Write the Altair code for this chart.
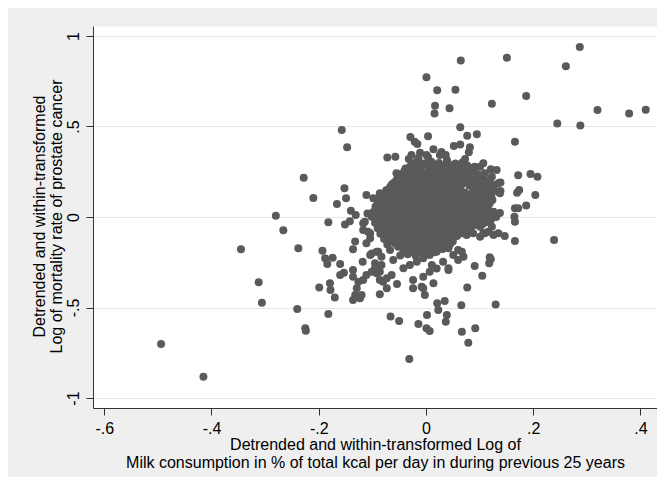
import altair as alt
import pandas as pd

# Points (x = milk, y = mortality), outer / edge points
outer_points = [
    (-0.494, -0.702), (-0.415, -0.882), (-0.345, -0.178), (-0.312, -0.361), (-0.306, -0.474),
    (-0.280, 0.007), (-0.266, -0.073), (-0.238, -0.173), (-0.240, -0.508), (-0.225, -0.615),
    (-0.224, -0.628), (-0.228, 0.217), (-0.210, 0.105), (-0.182, -0.029), (-0.182, -0.536),
    (-0.199, -0.390), (-0.179, -0.366), (-0.178, -0.403), (-0.170, -0.444), (-0.193, -0.186),
    (-0.188, -0.228), (-0.184, -0.260), (-0.174, -0.225), (-0.160, -0.260), (-0.153, -0.308),
    (-0.160, -0.320), (-0.136, -0.293), (-0.136, -0.330), (-0.118, -0.247), (-0.132, -0.136),
    (-0.136, -0.178), (-0.157, 0.481), (-0.147, 0.385), (-0.152, 0.159), (-0.149, 0.103),
    (-0.166, 0.072), (-0.111, 0.122), (-0.086, 0.122), (-0.140, 0.035), (-0.131, 0.011),
    (-0.109, 0.020), (-0.151, -0.042), (-0.142, -0.024), (-0.117, -0.035), (-0.108, -0.081),
    (-0.104, -0.118), (-0.111, -0.145), (-0.101, -0.201), (-0.089, -0.192), (-0.083, -0.219),
    (-0.095, -0.256), (-0.083, -0.265), (-0.067, -0.182), (-0.061, -0.238), (-0.126, -0.357),
    (-0.129, -0.394), (-0.132, -0.431), (-0.136, -0.459), (-0.123, -0.449), (-0.117, -0.348),
    (-0.111, -0.320), (-0.101, -0.302), (-0.092, -0.311), (-0.086, -0.348), (-0.080, -0.357),
    (-0.073, -0.394), (-0.086, -0.427), (-0.054, -0.370), (-0.066, -0.549), (-0.050, -0.575),
    (-0.031, -0.785), (-0.024, -0.348), (-0.024, -0.394), (-0.005, -0.394), (-0.002, -0.431),
    (0.014, -0.366), (-0.014, -0.591), (0.001, -0.615), (0.007, -0.630), (0.002, -0.541),
    (0.021, -0.477), (0.023, -0.514), (0.035, -0.464), (0.039, -0.541), (0.037, -0.578),
    (0.066, -0.488), (0.077, -0.390), (0.067, -0.634), (0.079, -0.694), (0.092, -0.615),
    (0.130, -0.484), (0.091, -0.271), (0.105, -0.324), (0.118, -0.256), (0.121, -0.234),
    (0.042, -0.293), (0.020, -0.284), (0.011, -0.265), (0.060, -0.182), (0.067, -0.192),
    (0.060, -0.238), (0.039, -0.127),
    (0.065, 0.864), (0.001, 0.772), (0.021, 0.700), (0.055, 0.703), (0.123, 0.626),
    (0.017, 0.615), (0.016, 0.571), (0.044, 0.600), (0.064, 0.496), (0.077, 0.449),
    (0.095, 0.457), (-0.029, 0.442), (0.004, 0.446), (-0.016, 0.403), (-0.011, 0.355),
    (0.052, 0.392), (0.064, 0.400), (0.082, 0.385), (0.080, 0.357), (0.014, 0.374),
    (0.029, 0.359), (0.037, 0.343), (-0.072, 0.328), (-0.057, 0.333), (0.073, 0.320),
    (-0.032, 0.320), (0.004, 0.330), (-0.055, 0.241), (-0.060, 0.177), (0.101, 0.278),
    (0.107, 0.297), (0.121, 0.264), (0.132, 0.260), (0.107, 0.214), (0.119, 0.204),
    (0.135, 0.186), (0.135, 0.140), (0.116, 0.066), (0.123, 0.020), (0.135, -0.090),
    (0.287, 0.939), (0.261, 0.832), (0.151, 0.880), (0.187, 0.668), (0.320, 0.591),
    (0.379, 0.571), (0.410, 0.593), (0.245, 0.516), (0.288, 0.505), (0.166, 0.416),
    (0.172, 0.230), (0.195, 0.238), (0.208, 0.223), (0.139, 0.190), (0.174, 0.149),
    (0.170, 0.134), (0.204, 0.122), (0.139, 0.144), (0.187, 0.063), (0.166, 0.048),
    (0.172, 0.048), (0.165, 0.002), (0.166, -0.026), (0.147, -0.105), (0.166, -0.133),
    (0.239, -0.127), (0.119, -0.223), (0.070, -0.219),
    (0.076, -0.099), (0.073, -0.081), (0.101, -0.109), (0.110, -0.090), (0.116, -0.081),
    (0.067, -0.090),
    (-0.021, 0.416), (-0.027, 0.343), (-0.014, 0.324), (0.001, 0.343), (0.026, 0.343),
    (0.039, 0.315), (-0.030, 0.278), (-0.021, 0.297), (-0.045, 0.223), (0.091, 0.278),
    (0.082, 0.250), (0.110, 0.241), (0.123, 0.223), (-0.061, 0.186), (-0.055, 0.149),
    (-0.042, 0.167), (-0.098, 0.103), (-0.086, 0.131), (-0.073, 0.103), (-0.114, -0.026),
    (-0.101, 0.002), (-0.092, 0.039), (-0.117, -0.072), (-0.104, -0.090),
    (0.126, 0.167), (0.138, 0.131), (0.119, 0.076), (0.110, 0.057), (0.126, 0.029),
    (0.116, 0.002), (0.123, -0.054), (0.095, -0.035), (0.088, -0.090), (0.107, -0.090),
    (-0.104, -0.210), (-0.092, -0.192), (-0.095, -0.283), (-0.086, -0.302), (-0.073, -0.339),
    (-0.064, -0.320), (-0.042, -0.283), (-0.030, -0.265), (-0.017, -0.247), (-0.005, -0.228),
    (0.007, -0.210), (0.020, -0.192), (-0.008, -0.385), (-0.005, -0.330), (0.007, -0.302),
    (0.032, -0.247), (0.042, -0.283), (0.042, -0.173), (0.039, -0.118), (0.057, -0.099),
    (0.051, -0.210), (0.126, -0.099), (-0.120, -0.431),
    (0.138, 0.022), (0.131, 0.000), (0.121, -0.017), (0.114, -0.028), (0.106, -0.039),
    (0.101, -0.054),
]

# Dense central cloud
core_points = [
    (-0.018, 0.302), (-0.004, 0.296), (0.010, 0.305), (0.024, 0.298), (0.040, 0.303), (0.055, 0.295), (0.068, 0.301),
    (-0.038, 0.268), (-0.024, 0.274), (-0.010, 0.265), (0.005, 0.272), (0.019, 0.266), (0.033, 0.275),
    (0.047, 0.267), (0.061, 0.272), (0.075, 0.264), (0.088, 0.270),
    (-0.046, 0.238), (-0.032, 0.244), (-0.017, 0.236), (-0.003, 0.242), (0.012, 0.235), (0.026, 0.243),
    (0.041, 0.237), (0.055, 0.245), (0.070, 0.236), (0.084, 0.241), (0.098, 0.233),
    (-0.054, 0.208), (-0.040, 0.214), (-0.025, 0.206), (-0.011, 0.212), (0.004, 0.205), (0.018, 0.213),
    (0.033, 0.207), (0.047, 0.215), (0.062, 0.206), (0.076, 0.211), (0.091, 0.204), (0.105, 0.210),
    (-0.064, 0.178), (-0.049, 0.184), (-0.035, 0.176), (-0.020, 0.182), (-0.006, 0.175), (0.009, 0.183),
    (0.023, 0.177), (0.038, 0.185), (0.052, 0.176), (0.067, 0.181), (0.081, 0.174), (0.096, 0.180),
    (0.110, 0.175), (0.122, 0.182),
    (-0.074, 0.148), (-0.060, 0.154), (-0.045, 0.146), (-0.031, 0.152), (-0.016, 0.145), (-0.002, 0.153),
    (0.013, 0.147), (0.027, 0.155), (0.042, 0.146), (0.056, 0.151), (0.088, 0.144), (0.100, 0.152),
    (0.114, 0.146), (0.125, 0.153),
    (-0.079, 0.118), (-0.065, 0.124), (-0.050, 0.116), (-0.036, 0.122), (-0.021, 0.115), (-0.007, 0.123),
    (0.008, 0.117), (0.022, 0.125), (0.037, 0.116), (0.051, 0.121), (0.066, 0.114), (0.080, 0.120),
    (0.095, 0.115), (0.109, 0.123), (0.122, 0.117),
    (-0.090, 0.088), (-0.076, 0.094), (-0.061, 0.086), (-0.047, 0.092), (-0.032, 0.085), (-0.018, 0.093),
    (-0.003, 0.087), (0.011, 0.095), (0.026, 0.086), (0.040, 0.091), (0.055, 0.084), (0.069, 0.090),
    (0.084, 0.085), (0.098, 0.093), (0.113, 0.087), (0.124, 0.094),
    (-0.094, 0.058), (-0.080, 0.064), (-0.065, 0.056), (-0.051, 0.062), (-0.036, 0.055), (-0.022, 0.063),
    (-0.007, 0.057), (0.007, 0.065), (0.022, 0.056), (0.036, 0.061), (0.051, 0.054), (0.065, 0.060),
    (0.080, 0.055), (0.094, 0.063), (0.108, 0.057),
    (-0.098, 0.028), (-0.084, 0.034), (-0.069, 0.026), (-0.055, 0.032), (-0.040, 0.025), (-0.026, 0.033),
    (-0.011, 0.027), (0.003, 0.035), (0.018, 0.026), (0.032, 0.031), (0.047, 0.024), (0.061, 0.030),
    (0.076, 0.025), (0.090, 0.033), (0.105, 0.027), (0.118, 0.034),
    (-0.097, -0.002), (-0.083, 0.004), (-0.068, -0.004), (-0.054, 0.002), (-0.039, -0.005), (-0.025, 0.003),
    (-0.010, -0.003), (0.004, 0.005), (0.019, -0.004), (0.033, 0.001), (0.048, -0.006), (0.062, 0.000),
    (0.077, -0.005), (0.091, 0.003), (0.105, -0.003),
    (-0.095, -0.032), (-0.081, -0.026), (-0.066, -0.034), (-0.052, -0.028), (-0.037, -0.035), (-0.023, -0.027),
    (-0.008, -0.033), (0.006, -0.025), (0.021, -0.034), (0.035, -0.029), (0.050, -0.036), (0.064, -0.030),
    (0.079, -0.035), (0.092, -0.027),
    (-0.090, -0.062), (-0.076, -0.056), (-0.061, -0.064), (-0.047, -0.058), (-0.032, -0.065), (-0.018, -0.057),
    (-0.003, -0.063), (0.011, -0.055), (0.026, -0.064), (0.040, -0.059), (0.055, -0.066), (0.069, -0.060),
    (0.083, -0.065),
    (-0.085, -0.092), (-0.071, -0.086), (-0.056, -0.094), (-0.042, -0.088), (-0.027, -0.095), (-0.013, -0.087),
    (0.002, -0.093), (0.016, -0.085), (0.031, -0.094), (0.045, -0.089), (0.058, -0.096),
    (-0.078, -0.122), (-0.064, -0.116), (-0.049, -0.124), (-0.035, -0.118), (-0.020, -0.125), (-0.006, -0.117),
    (0.009, -0.123), (0.023, -0.115), (0.050, -0.121),
    (-0.072, -0.152), (-0.057, -0.146), (-0.043, -0.154), (-0.028, -0.148), (-0.014, -0.155), (0.001, -0.147),
    (0.015, -0.153), (0.030, -0.145), (0.045, -0.151),
    (-0.041, -0.182), (-0.027, -0.176), (-0.012, -0.184), (0.002, -0.178), (0.017, -0.185), (0.031, -0.177),
    (-0.048, -0.212), (-0.034, -0.206), (-0.019, -0.214), (-0.005, -0.208),
]

# Further points of the saturated cloud, between the rows above (row y -> x values)
core_mid_rows = {
    0.285: [-0.025, -0.011, 0.003, 0.017, 0.032, 0.047, 0.062, 0.077],
    0.255: [-0.040, -0.025, -0.010, 0.005, 0.019, 0.034, 0.048, 0.063, 0.077, 0.091],
    0.225: [-0.047, -0.032, -0.018, -0.003, 0.011, 0.026, 0.040, 0.055, 0.069, 0.084, 0.099],
    0.195: [-0.057, -0.042, -0.028, -0.013, 0.001, 0.016, 0.030, 0.045, 0.059, 0.074, 0.088, 0.103, 0.114],
    0.165: [-0.067, -0.052, -0.038, -0.023, -0.009, 0.006, 0.020, 0.035, 0.049, 0.064, 0.093, 0.107, 0.119],
    0.135: [-0.072, -0.057, -0.043, -0.028, -0.014, 0.001, 0.015, 0.030, 0.044, 0.059, 0.073, 0.088, 0.102, 0.117],
    0.105: [-0.083, -0.068, -0.054, -0.039, -0.025, -0.010, 0.004, 0.019, 0.033, 0.048, 0.062, 0.077, 0.091, 0.106, 0.118],
    0.075: [-0.087, -0.072, -0.058, -0.043, -0.029, -0.014, 0.000, 0.015, 0.029, 0.044, 0.058, 0.073, 0.087, 0.102, 0.116],
    0.045: [-0.091, -0.076, -0.062, -0.047, -0.033, -0.018, -0.004, 0.011, 0.025, 0.040, 0.054, 0.069, 0.083, 0.098, 0.112],
    0.015: [-0.092, -0.077, -0.063, -0.048, -0.034, -0.019, -0.005, 0.010, 0.024, 0.039, 0.053, 0.068, 0.082, 0.097, 0.110],
    -0.015: [-0.090, -0.075, -0.061, -0.046, -0.032, -0.017, -0.003, 0.012, 0.026, 0.041, 0.055, 0.070, 0.084, 0.098],
    -0.045: [-0.085, -0.070, -0.056, -0.041, -0.027, -0.012, 0.002, 0.017, 0.031, 0.046, 0.060, 0.075, 0.089],
    -0.075: [-0.080, -0.065, -0.051, -0.036, -0.022, -0.007, 0.007, 0.022, 0.036, 0.051, 0.065, 0.078],
    -0.105: [-0.073, -0.058, -0.044, -0.029, -0.015, 0.000, 0.014, 0.029, 0.043, 0.058],
    -0.135: [-0.066, -0.051, -0.037, -0.022, -0.008, 0.007, 0.021, 0.036, 0.050],
    -0.165: [-0.052, -0.037, -0.023, -0.008, 0.006, 0.021, 0.035],
    -0.195: [-0.042, -0.027, -0.013, 0.002, 0.016],
}

x_ticks = [-0.6, -0.4, -0.2, 0, 0.2, 0.4]
y_ticks = [-1, -0.5, 0, 0.5, 1]
x_title = ["Detrended and within-transformed Log of",
           "Milk consumption in % of total kcal per day in during previous 25 years"]
y_title = ["Detrended and within-transformed",
           "Log of mortality rate of prostate cancer"]

mid_points = [(x, y) for y, xs in core_mid_rows.items() for x in xs]
df = pd.DataFrame(outer_points + core_points + mid_points, columns=["milk", "mort"])

label_expr = "replace('' + datum.value, '0.', '.')"
FONT = "Liberation Sans"

chart = (
    alt.Chart(df)
    .mark_circle(size=64, color="#5A5A5A", opacity=1)
    .encode(
        x=alt.X(
            "milk:Q",
            scale=alt.Scale(domain=[-0.621, 0.431], nice=False, zero=False),
            axis=alt.Axis(
                values=x_ticks, title=x_title, labelExpr=label_expr, grid=False,
                tickSize=7, labelPadding=5, labelFlush=False, labelOverlap=False,
                titleY=36, titleBaseline="middle", titleLineHeight=18,
            ),
        ),
        y=alt.Y(
            "mort:Q",
            scale=alt.Scale(domain=[-1.055, 1.055], nice=False, zero=False),
            axis=alt.Axis(
                values=y_ticks, title=y_title, labelExpr=label_expr, grid=True,
                tickSize=7, labelPadding=8, labelFlush=False, labelOverlap=False,
                labelAngle=270, labelAlign="center", labelBaseline="alphabetic",
                titleX=-54, titleY=190, titleAngle=270, titleBaseline="middle",
                titleAlign="center", titleLineHeight=17,
            ),
        ),
    )
    .properties(
        width=564, height=382,
        autosize=alt.AutoSizeParams(type="none"),
        padding={"left": 85, "top": 18, "right": 0, "bottom": 69},
        background="#EFEFEF",
    )
    .configure_view(fill="white", stroke="transparent")
    .configure_axis(
        labelFont=FONT, labelFontSize=16, labelColor="black",
        titleFont=FONT, titleFontSize=16, titleColor="black", titleFontWeight="normal",
        domainColor="#333333", domainWidth=1, tickColor="#333333", tickWidth=1,
        gridColor="#E6E6E6", gridWidth=1.2,
    )
)

chart.save("out.html", embed_options={"renderer": "svg", "actions": False})
